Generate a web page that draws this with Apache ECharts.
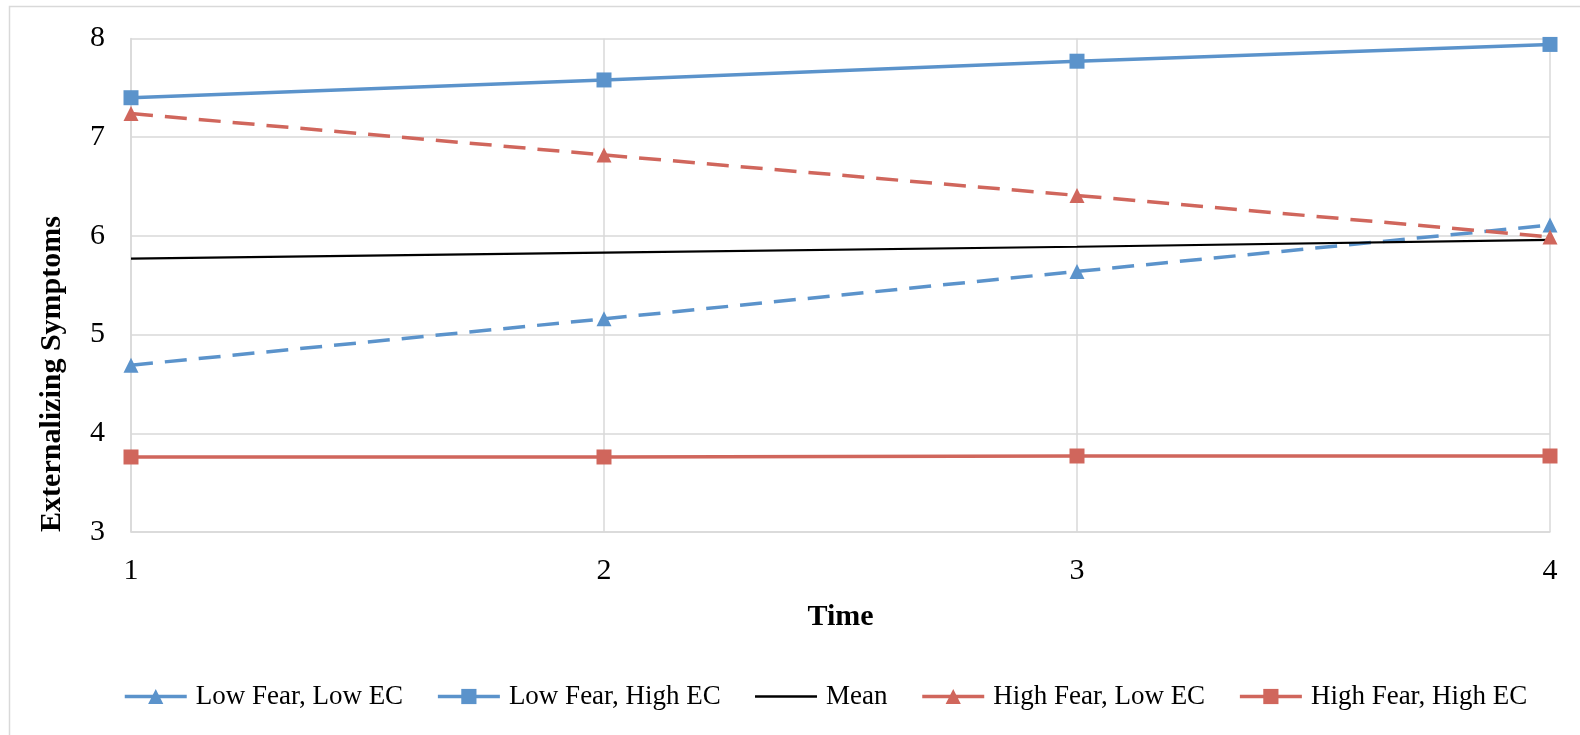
<!DOCTYPE html>
<html><head><meta charset="utf-8">
<script src="https://cdn.jsdelivr.net/npm/echarts@6/dist/echarts.min.js"></script>
<style>html,body{margin:0;padding:0;background:#fff}#c{width:1580px;height:735px}</style>
</head><body><div id="c"></div>
<script>
const categories = ['1','2','3','4'];
const lowFearLowEC = [4.69, 5.16, 5.64, 6.11];
const lowFearHighEC = [7.40, 7.58, 7.77, 7.94];
const meanLine = [5.77, 5.83, 5.89, 5.96];
const highFearLowEC = [7.24, 6.82, 6.41, 5.99];
const highFearHighEC = [3.76, 3.76, 3.77, 3.77];
const seriesNames = ['Low Fear, Low EC','Low Fear, High EC','Mean','High Fear, Low EC','High Fear, High EC'];
const xTitle = 'Time';
const yTitle = 'Externalizing Symptoms';

const BLUE = '#5B93CB', RED = '#D0665C';
const font = 'Liberation Serif, Times New Roman, serif';
function mk(name, data, color, symbol, dashed, width, size) {
  return {
    name, type: 'line', data, symbol, symbolSize: size,
    showSymbol: symbol !== 'none',
    itemStyle: { color },
    lineStyle: { color, width, type: dashed ? [22, 12] : 'solid' },
    emphasis: { disabled: true }, animation: false, z: 3
  };
}
const chart = echarts.init(document.getElementById('c'));
chart.setOption({
  animation: false,
  graphic: [
    { type: 'rect', shape: { x: 9.5, y: 6.5, width: 1700, height: 900 }, style: { fill: 'none', stroke: '#d9d9d9', lineWidth: 1.5 }, silent: true },
    { type: 'text', x: 52, y: 374, rotation: Math.PI / 2, silent: true,
      style: { text: yTitle, font: 'bold 30px ' + font, fill: '#000', align: 'center', verticalAlign: 'middle' } }
  ],
  grid: { left: 131, right: 30, top: 38.5, bottom: 203 },
  legend: {
    bottom: 20, left: 118, itemWidth: 62, itemHeight: 19, itemGap: 33,
    textStyle: { fontFamily: font, fontSize: 27, color: '#000', padding: [0, 0, 0, 4] },
    data: [
      { name: seriesNames[0], lineStyle: { width: 3.5, type: 'solid' } },
      { name: seriesNames[1], lineStyle: { width: 3.5 } },
      { name: seriesNames[2], lineStyle: { width: 2.5 }, itemStyle: { color: 'rgba(0,0,0,0)', borderWidth: 0 } },
      { name: seriesNames[3], lineStyle: { width: 3.5, type: 'solid' } },
      { name: seriesNames[4], lineStyle: { width: 3.5 } }
    ]
  },
  xAxis: {
    type: 'category', data: categories, boundaryGap: false,
    name: xTitle, nameLocation: 'middle', nameGap: 70,
    nameTextStyle: { fontFamily: font, fontSize: 30, fontWeight: 'bold', color: '#000' },
    axisLine: { lineStyle: { color: '#d9d9d9', width: 1.5 } },
    axisTick: { show: false },
    axisLabel: { fontFamily: font, fontSize: 30, color: '#000', margin: 24 },
    splitLine: { show: true, lineStyle: { color: '#d9d9d9', width: 1.5 } }
  },
  yAxis: {
    type: 'value', min: 3, max: 8, interval: 1,
    axisLine: { show: true, lineStyle: { color: '#d9d9d9', width: 1.5 } },
    axisTick: { show: false },
    axisLabel: { fontFamily: font, fontSize: 30, color: '#000', margin: 26 },
    splitLine: { lineStyle: { color: '#d9d9d9', width: 1.5 } }
  },
  series: [
    mk(seriesNames[0], lowFearLowEC, BLUE, 'triangle', true, 3.5, 15),
    mk(seriesNames[1], lowFearHighEC, BLUE, 'rect', false, 3.5, 15),
    mk(seriesNames[2], meanLine, '#000', 'none', false, 2.2, 0),
    mk(seriesNames[3], highFearLowEC, RED, 'triangle', true, 3.5, 15),
    mk(seriesNames[4], highFearHighEC, RED, 'rect', false, 3.5, 15)
  ]
});
</script></body></html>
